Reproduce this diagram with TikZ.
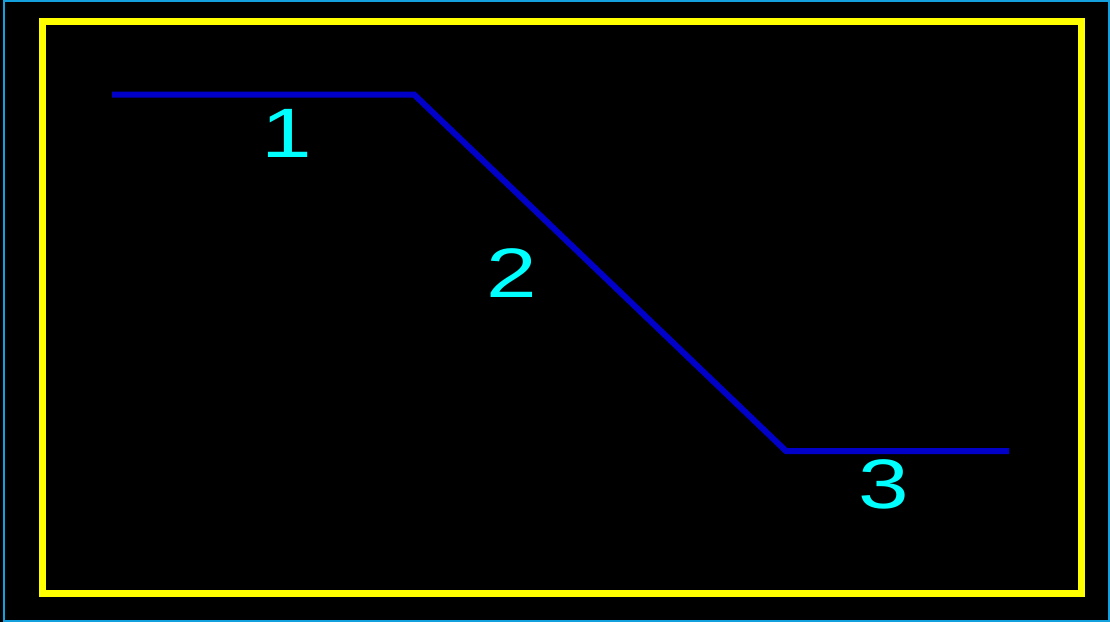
\documentclass[tikz,border=0pt]{standalone}
\usepackage{fontspec}
\newfontfamily\digitfont{Liberation Sans}
\definecolor{frameblue}{RGB}{20,160,220}
\definecolor{boxyellow}{RGB}{255,255,0}
\definecolor{lineblue}{RGB}{0,0,200}
\definecolor{labelcyan}{RGB}{0,255,255}
\begin{document}
\begin{tikzpicture}[x=1pt,y=-1pt,
  outerframe/.style={draw=frameblue,line width=2pt},
  yellowbox/.style={draw=boxyellow,line width=7pt},
  profile/.style={draw=lineblue,line width=6pt},
  seglabel/.style={text=labelcyan,font=\digitfont\fontsize{70}{70}\selectfont,xscale=1.3,inner sep=0pt}]
  \fill[black] (0,0) rectangle (1110,622);
  \useasboundingbox (0,0) rectangle (1110,622);
  \draw[outerframe] (4,1) rectangle (1109,621);
  \draw[yellowbox] (42,21) rectangle (1081.5,593);
  \coordinate (p0) at (112,94.5);
  \coordinate (p1) at (414,94.5);
  \coordinate (p2) at (786,451);
  \coordinate (p3) at (1009,451);
  \draw[profile] (p0) -- (p1) -- (p2) -- (p3);
  \node[seglabel] (l1) at (287,133) {1};
  \node[seglabel] (l2) at (512,273) {2};
  \node[seglabel] (l3) at (884,484) {3};
\end{tikzpicture}
\end{document}
